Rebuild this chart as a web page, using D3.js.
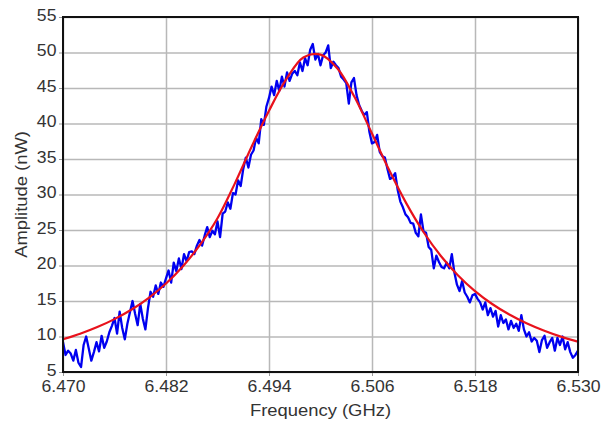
<!DOCTYPE html>
<html>
<head>
<meta charset="utf-8">
<script src="https://cdn.jsdelivr.net/npm/d3@7"></script>
<style>
  html, body { margin: 0; padding: 0; background: #fff; }
  svg { display: block; font-family: 'Liberation Sans', Arial, sans-serif; }
</style>
</head>
<body>
<div id="chart"></div>
<script>
// x ticks (GHz) and y ticks (nW)
const xTicks = [6.470, 6.482, 6.494, 6.506, 6.518, 6.530];
const yTicks = [5, 10, 15, 20, 25, 30, 35, 40, 45, 50, 55];

// fitted curve (red)
const fitFreq = [6.470, 6.472, 6.474, 6.476, 6.478, 6.480, 6.482, 6.484, 6.486, 6.488,
  6.490, 6.492, 6.494, 6.496, 6.498, 6.500, 6.502, 6.504, 6.506, 6.508,
  6.510, 6.512, 6.514, 6.516, 6.518, 6.520, 6.522, 6.524, 6.526, 6.528, 6.530];
const fitAmp = [9.61, 10.39, 11.33, 12.45, 13.80, 15.45, 17.46, 19.94, 22.97, 26.65,
  31.5, 36.8, 41.8, 46.2, 49.3, 49.7, 47.71, 43.65, 38.59, 33.44,
  28.75, 24.72, 21.38, 18.64, 16.40, 14.58, 13.09, 11.86, 10.84, 9.98, 9.26];

// measured sweep (blue), one sample every 0.0003 GHz from 6.470
const measFreqStart = 6.470;
const measFreqStep = 0.0003;
const measAmp = [
  9.2, 7.4, 8.0, 7.6, 6.6, 8.1, 6.3, 5.7, 8.8, 10.0,
  8.3, 6.6, 7.8, 9.2, 7.9, 10.1, 8.4, 9.3, 10.6, 11.5,
  12.6, 10.4, 13.5, 11.2, 9.6, 11.8, 13.4, 15.0, 13.2, 11.6,
  14.6, 12.5, 11.0, 14.0, 16.3, 15.6, 17.2, 16.0, 17.6, 17.0,
  18.2, 19.3, 17.6, 20.4, 19.2, 21.0, 19.5, 21.6, 20.6, 21.9,
  22.0, 21.6, 22.8, 23.6, 22.8, 24.2, 25.4, 24.0, 24.9, 24.4,
  26.2, 24.0, 27.3, 27.6, 28.9, 28.0, 30.2, 30.0, 32.0, 31.2,
  33.6, 35.2, 33.8, 35.6, 36.2, 38.0, 37.2, 40.6, 39.8, 42.4,
  43.6, 45.2, 44.0, 46.0, 44.6, 46.6, 45.2, 47.2, 46.0, 47.0,
  47.4, 46.8, 48.6, 47.4, 49.2, 48.2, 50.4, 51.2, 49.0, 49.8,
  48.2, 49.6, 50.0, 51.0, 47.8, 48.7, 48.2, 47.8, 46.6, 46.2,
  45.7, 42.8, 45.8, 46.4, 44.0, 42.6, 41.8, 41.2, 41.6, 38.8,
  37.2, 37.4, 38.4, 36.0, 35.4, 35.2, 33.6, 32.2, 32.4, 33.0,
  30.6, 29.0, 28.2, 27.2, 26.8, 26.0, 25.9, 24.6, 24.1, 27.2,
  24.8, 24.6, 22.6, 22.2, 19.6, 21.4, 20.5, 19.8, 19.6, 20.4,
  19.6, 21.6, 19.0, 17.3, 16.4, 17.8, 16.2, 15.6, 14.8, 15.8,
  16.0, 15.3, 14.8, 13.8, 14.8, 13.0, 14.0, 12.8, 13.6, 11.4,
  13.0, 11.9, 12.4, 11.0, 12.2, 11.2, 11.8, 10.8, 13.0, 11.0,
  10.0, 10.6, 9.3, 9.8, 9.4, 7.8, 9.5, 10.1, 8.4, 9.2,
  9.8, 8.0, 9.8, 8.8, 10.0, 8.2, 9.2, 7.8, 7.0, 7.4,
  8.0
];

const width = 610;
const height = 423;
const plotLeft = 63, plotRight = 578, plotTop = 17, plotBottom = 372;

const svg = d3.select('#chart')
  .append('svg')
  .attr('width', width)
  .attr('height', height);

const x = d3.scaleLinear().domain([6.470, 6.530]).range([plotLeft, plotRight]);
const y = d3.scaleLinear().domain([5, 55]).range([plotBottom, plotTop]);

// Grid lines
svg.append('g')
  .attr('transform', `translate(0,${plotBottom})`)
  .call(d3.axisBottom(x).tickValues(xTicks).tickSize(-(plotBottom - plotTop)).tickFormat(''))
  .call((g) => g.select('.domain').remove())
  .call((g) => g.selectAll('.tick line').attr('stroke', '#b8b8b8').attr('stroke-width', 1.5));

svg.append('g')
  .attr('transform', `translate(${plotLeft},0)`)
  .call(d3.axisLeft(y).tickValues(yTicks).tickSize(-(plotRight - plotLeft)).tickFormat(''))
  .call((g) => g.select('.domain').remove())
  .call((g) => g.selectAll('.tick line').attr('stroke', '#b8b8b8').attr('stroke-width', 1.5));

// Axes with labels (text a bit wider than the font, as in the source image)
svg.append('g')
  .attr('transform', `translate(0,${plotBottom})`)
  .call(d3.axisBottom(x).tickValues(xTicks).tickSize(4).tickPadding(5).tickFormat(d3.format('.3f')))
  .call((g) => g.select('.domain').remove())
  .call((g) => g.selectAll('.tick line').attr('stroke', '#999'))
  .call((g) =>
    g
      .selectAll('.tick text')
      .attr('fill', '#333')
      .attr('transform', 'scale(1.1,1)')
      .style('font-size', '16px')
  );

svg.append('g')
  .attr('transform', `translate(${plotLeft},0)`)
  .call(d3.axisLeft(y).tickValues(yTicks).tickSize(4).tickPadding(2))
  .call((g) => g.select('.domain').remove())
  .call((g) => g.selectAll('.tick line').attr('stroke', '#999'))
  .call((g) =>
    g
      .selectAll('.tick text')
      .attr('fill', '#333')
      .attr('transform', 'translate(0,-2) scale(1.1,1)')
      .style('font-size', '16px')
  );

// Clip to plot area
svg.append('clipPath')
  .attr('id', 'plot-clip')
  .append('rect')
  .attr('x', plotLeft)
  .attr('y', plotTop)
  .attr('width', plotRight - plotLeft)
  .attr('height', plotBottom - plotTop);

const measData = measAmp.map((a, i) => ({ f: measFreqStart + i * measFreqStep, a }));
const fitData = fitFreq.map((f, i) => ({ f, a: fitAmp[i] }));

const plot = svg.append('g').attr('clip-path', 'url(#plot-clip)');

plot.append('path')
  .datum(measData)
  .attr('fill', 'none')
  .attr('stroke', '#0000f0')
  .attr('stroke-width', 2.3)
  .attr('stroke-linejoin', 'round')
  .attr('d', d3.line().x((d) => x(d.f)).y((d) => y(d.a)));

plot.append('path')
  .datum(fitData)
  .attr('fill', 'none')
  .attr('stroke', '#e8121c')
  .attr('stroke-width', 2.2)
  .attr('d', d3.line().curve(d3.curveCatmullRom).x((d) => x(d.f)).y((d) => y(d.a)));

// Frame
svg.append('rect')
  .attr('x', plotLeft)
  .attr('y', plotTop)
  .attr('width', plotRight - plotLeft)
  .attr('height', plotBottom - plotTop)
  .attr('fill', 'none')
  .attr('stroke', '#111')
  .attr('stroke-width', 2);

// Axis titles
svg.append('text')
  .attr('transform', `translate(${(plotLeft + plotRight) / 2},416) scale(1.15,1)`)
  .attr('text-anchor', 'middle')
  .attr('fill', '#333')
  .style('font-size', '16px')
  .text('Frequency (GHz)');

svg.append('text')
  .attr('transform', `translate(27,${(plotTop + plotBottom) / 2}) rotate(-90) scale(1.15,1)`)
  .attr('text-anchor', 'middle')
  .attr('fill', '#333')
  .style('font-size', '16px')
  .text('Amplitude (nW)');
</script>
</body>
</html>
